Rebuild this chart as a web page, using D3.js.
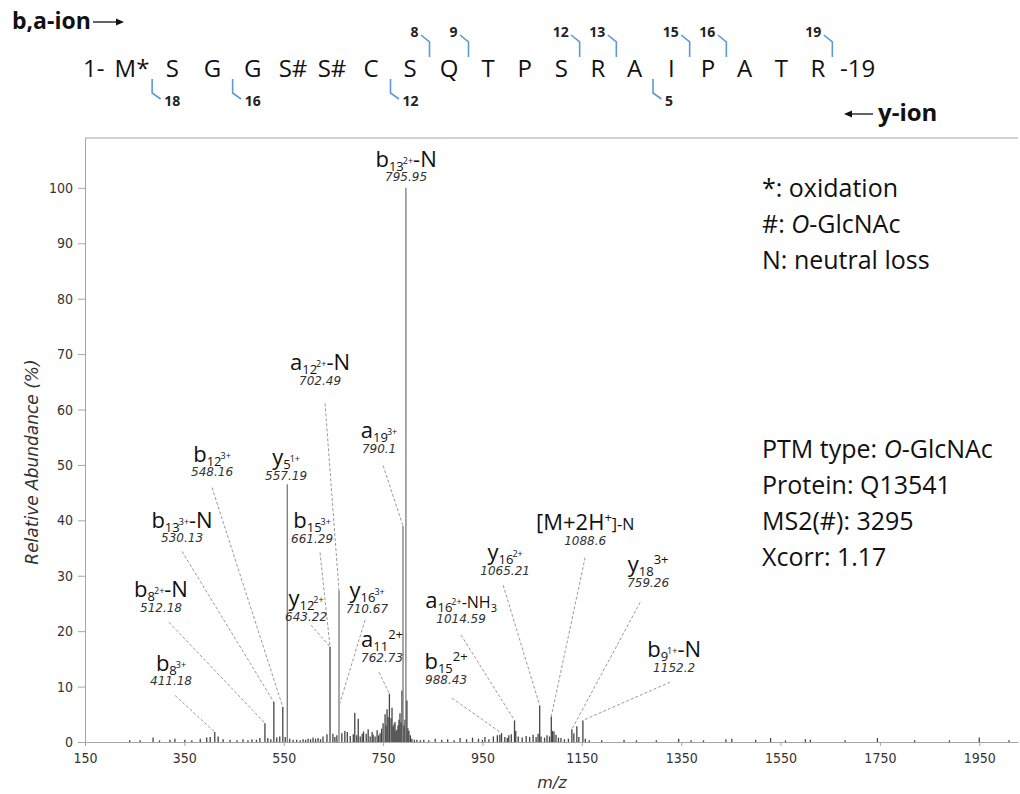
<!DOCTYPE html>
<html>
<head>
<meta charset="utf-8">
<script src="https://cdn.jsdelivr.net/npm/d3@7"></script>
<style>
  body { margin: 0; background: #fff; }
  svg { display: block; }
</style>
</head>
<body>
<div class="chart"></div>
<script>
// ---- data ----
var residues = ["M*", "S", "G", "G", "S#", "S#", "C", "S", "Q", "T", "P", "S", "R", "A", "I", "P", "A", "T", "R"];
var bIons = [8, 9, 12, 13, 15, 16, 19];
var yIons = [18, 16, 12, 5];

var xTicks = [150, 350, 550, 750, 950, 1150, 1350, 1550, 1750, 1950];
var yTicks = [0, 10, 20, 30, 40, 50, 60, 70, 80, 90, 100];

// spectrum peaks (m/z, relative abundance %)
var peakMz = [240, 261, 287, 300, 321, 331, 351, 365, 382, 395, 402, 411.18, 418, 428, 442, 456, 468, 478, 486, 495,
  502, 512.18, 518, 524, 530.13, 536, 542, 548.16, 553, 557.19, 562, 569, 576, 583, 589, 594, 599, 604, 609, 614,
  619, 624, 629, 637, 643.22, 649, 653, 657, 661.29, 667, 673, 678, 684, 690, 693, 697, 700, 704, 708, 710.67,
  716, 720, 724, 728, 730, 734, 738, 741, 744, 747, 750, 754, 756, 758, 760, 762.73, 766, 768, 770, 772,
  774, 776, 778, 780, 782, 784, 786, 788, 790.1, 792, 794, 795.95, 798, 800, 802, 805, 808, 813, 818, 825,
  832, 842, 855, 868, 880, 893, 905, 918, 930, 942, 950, 955, 963, 972, 980, 985, 988.43, 995, 1000, 1003,
  1008, 1014.59, 1017, 1022, 1030, 1038, 1045, 1052, 1058, 1062, 1065.21, 1068, 1075, 1080, 1085, 1088.6, 1091, 1094, 1098, 1103,
  1108, 1115, 1123, 1130, 1134, 1140, 1144, 1152.2, 1157, 1165, 1190, 1235, 1260, 1300, 1345, 1370, 1395, 1440, 1452, 1500,
  1530, 1560, 1600, 1610, 1680, 1745, 1820, 1890, 1950, 2010];
var peakAbund = [0.3, 0.3, 0.8, 0.3, 0.4, 0.6, 0.4, 0.3, 0.6, 0.8, 0.9, 1.8, 1.0, 0.5, 0.4, 0.3, 0.5, 0.3, 0.5, 0.4,
  0.7, 3.4, 0.7, 0.5, 7.2, 0.8, 1.0, 6.3, 0.9, 46.5, 0.6, 0.4, 0.4, 0.3, 0.5, 0.4, 0.6, 0.5, 0.8, 0.6,
  0.7, 0.5, 1.0, 1.4, 17.2, 1.5, 0.9, 1.2, 27.3, 1.6, 2.0, 1.8, 1.1, 1.4, 5.3, 1.2, 4.2, 1.0, 1.5, 1.9,
  1.5, 2.3, 1.0, 1.8, 1.3, 1.0, 2.1, 1.2, 1.6, 2.4, 3.4, 5.0, 3.0, 5.9, 4.5, 8.7, 4.3, 6.2, 2.8, 3.2,
  3.6, 2.0, 2.2, 3.0, 4.0, 5.2, 3.5, 9.3, 39, 3.0, 4.0, 100, 7.5, 2.5, 2.0, 1.2, 0.6, 0.4, 0.4, 0.3,
  0.4, 0.3, 0.6, 0.4, 0.5, 0.3, 0.7, 0.5, 0.8, 0.6, 0.4, 0.9, 0.5, 1.0, 1.2, 1.3, 1.6, 0.9, 0.7, 1.2,
  1.4, 3.9, 2.0, 1.0, 0.8, 1.1, 0.9, 1.3, 0.9, 1.5, 6.6, 1.0, 0.8, 1.2, 1.0, 4.6, 2.0, 1.9, 1.3, 0.8,
  0.7, 0.5, 0.6, 2.3, 1.6, 2.85, 0.9, 3.9, 0.6, 0.3, 0.3, 0.4, 0.3, 0.3, 0.6, 0.3, 0.3, 0.5, 0.6, 0.4,
  0.7, 0.3, 0.5, 0.4, 0.3, 0.7, 0.3, 0.3, 0.8, 0.3];

// annotated ions: label parts, printed m/z, and the peak each leader points at
var ionLabels = [
  [["b", "m"], ["13", "sub"], ["2+", "sup"], ["-N", "m"]],
  [["a", "m"], ["12", "sub"], ["2+", "sup"], ["-N", "m"]],
  [["a", "m"], ["19", "sub"], ["3+", "sup"]],
  [["b", "m"], ["12", "sub"], ["3+", "sup"]],
  [["y", "m"], ["5", "sub"], ["1+", "sup"]],
  [["b", "m"], ["13", "sub"], ["3+", "sup"], ["-N", "m"]],
  [["b", "m"], ["15", "sub"], ["3+", "sup"]],
  [["b", "m"], ["8", "sub"], ["2+", "sup"], ["-N", "m"]],
  [["y", "m"], ["12", "sub"], ["2+", "sup"]],
  [["y", "m"], ["16", "sub"], ["3+", "sup"]],
  [["a", "m"], ["11", "sub"], ["2+", "supL"]],
  [["b", "m"], ["8", "sub"], ["3+", "sup"]],
  [["[M+2H", "m"], ["+", "supL"], ["]-N", "s"]],
  [["y", "m"], ["16", "sub"], ["2+", "sup"]],
  [["y", "m"], ["18", "sub"], ["3+", "supL"]],
  [["a", "m"], ["16", "sub"], ["2+", "sup"], ["-NH", "s"], ["3", "ssub"]],
  [["b", "m"], ["15", "sub"], ["2+", "supL"]],
  [["b", "m"], ["9", "sub"], ["1+", "sup"], ["-N", "m"]]
];
var ionMz = ["795.95", "702.49", "790.1", "548.16", "557.19", "530.13", "661.29", "512.18", "643.22",
  "710.67", "762.73", "411.18", "1088.6", "1065.21", "759.26", "1014.59", "988.43", "1152.2"];
var targetMz = [null, 661.29, 790.1, 548.16, null, 530.13, 643.22, 512.18, 643.22,
  663, 762.73, 411.18, 1088.6, 1065.21, 1130, 1014.59, 988.43, 1152.2];
var targetAbund = [null, 27.3, 39, 6.3, null, 7.2, 17.2, 3.4, 17.2,
  7, 8.7, 1.8, 4.6, 6.6, 2.3, 3.9, 1.6, 3.9];

var notesTop = ["*: oxidation", "#: |O|-GlcNAc", "N: neutral loss"];
var notesBottom = ["PTM type: |O|-GlcNAc", "Protein: Q13541", "MS2(#): 3295", "Xcorr: 1.17"];

// ---- layout (label anchors in axis units) ----
var labelPos = [[796.3, 103.8], [623.1, 67.1], [741.9, 54.8], [405.7, 50.6], [554.7, 49.9], [345.3, 38.7],
  [607.0, 38.6], [303.0, 26.1], [594.9, 24.5], [717.8, 25.9], [747.9, 17.1], [323.1, 12.9],
  [1156.7, 38.2], [995.6, 32.8], [1283.5, 30.6], [907.0, 24.1], [876.8, 13.1], [1335.8, 15.3]];
var leaderStart = [null, [633.2, 61.1], [750.0, 49.9], [405.7, 45.9], null, [345.3, 34.4],
  [623.1, 34.2], [319.1, 21.6], [605.0, 21.1], [713.7, 22.0], [741.9, 12.6], [331.2, 8.4],
  [1156.7, 33.3], [991.6, 28.3], [1267.4, 25.2], [907.0, 19.3], [888.9, 7.9], [1327.8, 10.8]];

var svgWidth = 1020;
var svgHeight = 794;
var plot = {left: 85, right: 1018, top: 138, bottom: 742};

var svg = d3.select(".chart")
  .append("svg")
  .attr("width", svgWidth)
  .attr("height", svgHeight);

var x = d3.scaleLinear().domain([150, 2028]).range([plot.left, plot.right]);
var y = d3.scaleLinear().domain([0, 109]).range([plot.bottom, plot.top]);

var axisGrey = "#a6a6a6";
var tickFont = "'DejaVu Sans Condensed', 'DejaVu Sans', sans-serif";

// frame top line
svg.append("line")
  .attr("x1", plot.left).attr("x2", plot.right)
  .attr("y1", plot.top).attr("y2", plot.top)
  .attr("stroke", axisGrey);

// y axis
var yAxis = svg.append("g")
  .attr("transform", `translate(${plot.left},0)`)
  .call(d3.axisLeft(y).tickValues(yTicks).tickSize(7).tickSizeOuter(0).tickPadding(5));
yAxis.select(".domain").attr("stroke", axisGrey).attr("d", `M0.5,${plot.top}V${plot.bottom}`);

// x axis
var xAxis = svg.append("g")
  .attr("transform", `translate(0,${plot.bottom})`)
  .call(d3.axisBottom(x).tickValues(xTicks).tickFormat(d3.format("d")).tickSize(4).tickSizeOuter(0).tickPadding(7));
xAxis.select(".domain").attr("stroke", axisGrey);

svg.selectAll(".tick line").attr("stroke", axisGrey);
svg.selectAll(".tick text")
  .style("font-family", tickFont)
  .style("font-size", "14px")
  .attr("fill", "#333");

// axis titles
svg.append("text")
  .attr("transform", "translate(38,462) rotate(-90)")
  .attr("text-anchor", "middle")
  .style("font-family", "'DejaVu Sans', sans-serif")
  .style("font-style", "italic")
  .style("font-size", "17px")
  .attr("fill", "#333")
  .text("Relative Abundance (%)");

svg.append("text")
  .attr("x", 552).attr("y", 788)
  .attr("text-anchor", "middle")
  .style("font-family", "'DejaVu Sans', sans-serif")
  .style("font-style", "italic")
  .style("font-size", "16px")
  .attr("fill", "#333")
  .text("m/z");

// peaks
var peaks = peakMz.map(function(d, i) { return {mz: d, ab: peakAbund[i]}; });
svg.append("g")
  .selectAll("line")
  .data(peaks)
  .enter()
  .append("line")
  .attr("x1", function(d) { return x(d.mz); })
  .attr("x2", function(d) { return x(d.mz); })
  .attr("y1", y(0))
  .attr("y2", function(d) { return y(d.ab); })
  .attr("stroke", function(d) { return d.ab > 20 ? "#7a7a7a" : "#444"; })
  .attr("stroke-width", 1.3);

// leaders
var ions = ionLabels.map(function(parts, i) {
  return {parts: parts, mz: ionMz[i], tMz: targetMz[i], tAb: targetAbund[i], pos: labelPos[i], start: leaderStart[i]};
});

svg.append("g")
  .selectAll("line")
  .data(ions.filter(function(d) { return d.start; }))
  .enter()
  .append("line")
  .attr("x1", function(d) { return x(d.start[0]); })
  .attr("y1", function(d) { return y(d.start[1]); })
  .attr("x2", function(d) { return x(d.tMz); })
  .attr("y2", function(d) { return y(d.tAb); })
  .attr("stroke", "#9a9a9a")
  .attr("stroke-width", 1)
  .attr("stroke-dasharray", "3,2");

// ion labels
var partStyle = {
  m: {size: 22, shift: 0},
  sub: {size: 13, shift: 4},
  sup: {size: 9, shift: -3},
  supL: {size: 13, shift: -8},
  s: {size: 16, shift: 0},
  ssub: {size: 11, shift: 4}
};
var labelFont = "'Open Sans', 'DejaVu Sans', sans-serif";

var labelG = svg.append("g")
  .selectAll("g")
  .data(ions)
  .enter()
  .append("g")
  .attr("transform", function(d) { return `translate(${x(d.pos[0])},${y(d.pos[1])})`; });

labelG.append("text")
  .attr("text-anchor", "middle")
  .style("font-family", labelFont)
  .attr("fill", "#111")
  .each(function(d) {
    var t = d3.select(this);
    var cur = 0;
    d.parts.forEach(function(p, k) {
      var st = partStyle[p[1]];
      var ts = t.append("tspan")
        .attr("dy", st.shift - cur)
        .style("font-size", st.size + "px")
        .text(p[0]);
      // tuck the charge right after the subscript
      if (p[1] === "sup") ts.attr("dx", -1);
      cur = st.shift;
    });
  });

labelG.append("text")
  .attr("y", 14.5)
  .attr("text-anchor", "middle")
  .style("font-family", "'DejaVu Sans', sans-serif")
  .style("font-style", "italic")
  .style("font-size", "12px")
  .attr("fill", "#333")
  .text(function(d) { return d.mz; });

// notes on the right
function addNotes(lines, y0) {
  var t = svg.append("g");
  lines.forEach(function(line, i) {
    var txt = t.append("text")
      .attr("x", 762).attr("y", y0 + i * 36)
      .style("font-family", "'Open Sans', sans-serif")
      .style("font-size", "25px")
      .attr("fill", "#111");
    line.split("|").forEach(function(s, j) {
      txt.append("tspan").style("font-style", j % 2 ? "italic" : "normal").text(s);
    });
  });
}
addNotes(notesTop, 197);
addNotes(notesBottom, 458);

// ---- peptide sequence header ----
var seqFont = "'Open Sans', sans-serif";
// residue number -> x centre (piecewise linear to follow the original spacing)
var seqX = d3.scaleLinear().domain([1, 5, 10, 19]).range([132, 293, 488, 818]);
var seqY = 77;

svg.append("text")
  .attr("x", 83).attr("y", seqY)
  .style("font-family", seqFont).style("font-size", "24px").attr("fill", "#111")
  .text("1-");
svg.append("text")
  .attr("x", 840).attr("y", seqY)
  .style("font-family", seqFont).style("font-size", "24px").attr("fill", "#111")
  .text("-19");

svg.append("g")
  .selectAll("text")
  .data(residues)
  .enter()
  .append("text")
  .attr("x", function(d, i) { return seqX(i + 1); })
  .attr("y", seqY)
  .attr("text-anchor", "middle")
  .style("font-family", seqFont)
  .style("font-size", "24px")
  .attr("fill", "#111")
  .text(function(d) { return d; });

var blue = "#5b9bd5";
var bG = svg.append("g").selectAll("g").data(bIons).enter().append("g")
  .attr("transform", function(d) { return `translate(${seqX(d + 0.5) - (d === 19 ? 4 : 0)},0)`; });
bG.append("path")
  .attr("d", "M-8.5,35L0,42V57")
  .attr("fill", "none").attr("stroke", blue).attr("stroke-width", 1.6);
bG.append("text")
  .attr("x", -11).attr("y", 37)
  .attr("text-anchor", "end")
  .style("font-family", seqFont).style("font-weight", "bold").style("font-size", "14px")
  .attr("fill", "#222")
  .text(function(d) { return d; });

var yG = svg.append("g").selectAll("g").data(yIons).enter().append("g")
  .attr("transform", function(d) { return `translate(${seqX(19 - d + 0.5)},0)`; });
yG.append("path")
  .attr("d", "M0,79V93L8.5,99")
  .attr("fill", "none").attr("stroke", blue).attr("stroke-width", 1.6);
yG.append("text")
  .attr("x", 12).attr("y", 106)
  .style("font-family", seqFont).style("font-weight", "bold").style("font-size", "14px")
  .attr("fill", "#222")
  .text(function(d) { return d; });

// ion direction captions
svg.append("text")
  .attr("x", 12).attr("y", 29)
  .style("font-family", seqFont).style("font-weight", "bold").style("font-size", "23px")
  .attr("fill", "#111")
  .text("b,a-ion");
svg.append("path")
  .attr("d", "M93,22H118").attr("stroke", "#111").attr("stroke-width", 1.3);
svg.append("path")
  .attr("d", "M124,22L116,18.5V25.5Z").attr("fill", "#111");

svg.append("text")
  .attr("x", 878).attr("y", 121)
  .style("font-family", seqFont).style("font-weight", "bold").style("font-size", "24px")
  .attr("fill", "#111")
  .text("y-ion");
svg.append("path")
  .attr("d", "M850,114H873").attr("stroke", "#111").attr("stroke-width", 1.3);
svg.append("path")
  .attr("d", "M844,114L852,110.5V117.5Z").attr("fill", "#111");
</script>
</body>
</html>
